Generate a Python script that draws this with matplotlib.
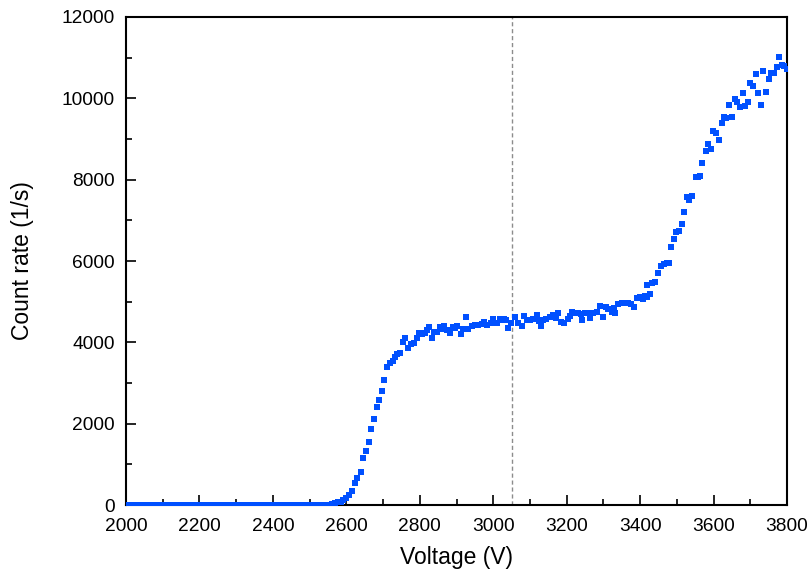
import matplotlib
matplotlib.use("Agg")
import matplotlib.pyplot as plt
from matplotlib.ticker import MultipleLocator

plt.rcParams['font.family'] = ['Liberation Sans', 'DejaVu Sans']

# Baseline region (count rate zero)
baseline_voltage = [2000, 2010, 2020, 2030, 2040, 2050, 2060, 2070, 2080, 2090,
                    2100, 2110, 2120, 2130, 2140, 2150, 2160, 2170, 2180, 2190,
                    2200, 2210, 2220, 2230, 2240, 2250, 2260, 2270, 2280, 2290,
                    2300, 2310, 2320, 2330, 2340, 2350, 2360, 2370, 2380, 2390,
                    2400, 2410, 2420, 2430, 2440, 2450, 2460, 2470, 2480, 2490,
                    2500, 2510, 2520, 2530, 2540, 2550, 2556]
baseline_rate = [0] * len(baseline_voltage)

# Measured region
voltage = [2562, 2569, 2578, 2585, 2592, 2599, 2608, 2616, 2624, 2630,
           2639, 2646, 2654, 2661, 2667, 2675, 2683, 2689, 2696, 2703,
           2711, 2719, 2726, 2733, 2739, 2746, 2753, 2760, 2769, 2776,
           2783, 2792, 2797, 2805, 2814, 2820, 2826, 2832, 2839, 2848,
           2855, 2860, 2866, 2873, 2882, 2890, 2896, 2902, 2911, 2919,
           2926, 2932, 2941, 2950, 2959, 2969, 2976, 2984, 2994, 3000,
           3009, 3018, 3024, 3029, 3035, 3041, 3048, 3059, 3068, 3078,
           3084, 3091, 3100, 3109, 3118, 3124, 3130, 3136, 3145, 3155,
           3164, 3170, 3176, 3185, 3194, 3203, 3208, 3214, 3223, 3232,
           3238, 3243, 3250, 3257, 3264, 3273, 3282, 3291, 3298, 3306,
           3313, 3323, 3328, 3332, 3341, 3350, 3359, 3368, 3375, 3384,
           3391, 3400, 3407, 3413, 3418, 3420, 3427, 3432, 3441, 3448,
           3456, 3465, 3472, 3479, 3484, 3492, 3499, 3507, 3514, 3520,
           3528, 3534, 3541, 3552, 3557, 3563, 3569, 3579, 3586, 3592,
           3599, 3607, 3614, 3622, 3628, 3635, 3642, 3649, 3658, 3665,
           3672, 3680, 3686, 3693, 3699, 3707, 3715, 3722, 3729, 3735,
           3743, 3750, 3757, 3765, 3772, 3778, 3786, 3793, 3799]
count_rate = [20, 41, 66, 82, 123, 164, 246, 353, 549, 672,
              803, 1156, 1336, 1549, 1861, 2123, 2418, 2582, 2803, 3074,
              3385, 3484, 3541, 3647, 3713, 3730, 4016, 4098, 3853, 3951,
              3976, 4098, 4237, 4197, 4222, 4300, 4369, 4098, 4246, 4246,
              4385, 4330, 4401, 4303, 4222, 4369, 4350, 4401, 4205, 4320,
              4631, 4320, 4401, 4426, 4426, 4450, 4492, 4426, 4467, 4565,
              4467, 4574, 4540, 4574, 4560, 4344, 4484, 4615, 4484, 4401,
              4648, 4560, 4549, 4565, 4672, 4520, 4401, 4549, 4565, 4615,
              4672, 4600, 4729, 4508, 4484, 4565, 4650, 4754, 4729, 4729,
              4690, 4549, 4713, 4713, 4590, 4713, 4754, 4893, 4615, 4861,
              4812, 4754, 4840, 4729, 4943, 4975, 4975, 4975, 4943, 4877,
              5083, 5108, 5058, 5140, 5122, 5410, 5181, 5467, 5491, 5713,
              5885, 5926, 5943, 5959, 6337, 6530, 6705, 6730, 6902, 7205,
              7566, 7500, 7595, 8058, 8070, 8099, 8419, 8714, 8877, 8747,
              9205, 9156, 8976, 9393, 9533, 9508, 9843, 9549, 9976, 9918,
              9795, 10123, 9811, 9918, 10385, 10303, 10598, 10123, 9828, 10680,
              10164, 10467, 10631, 10631, 10779, 11024, 10820, 10795, 10713]

marker_line_voltage = 3050

fig = plt.figure(figsize=(8.11, 5.80), dpi=100)
ax = fig.add_axes([0.1554, 0.1293, 0.8150, 0.8414])

blue = '#0050FF'
ax.plot(baseline_voltage + voltage, baseline_rate + count_rate, linestyle='none',
        marker='s', markersize=4.4, color=blue, markeredgewidth=0, zorder=3)

ax.axvline(marker_line_voltage, color='#8c8c8c', linestyle=(0, (3, 2)), linewidth=1.0, zorder=2)

ax.set_xlim(2000, 3800)
ax.set_ylim(0, 12000)
ax.xaxis.set_major_locator(MultipleLocator(200))
ax.xaxis.set_minor_locator(MultipleLocator(100))
ax.yaxis.set_major_locator(MultipleLocator(2000))
ax.yaxis.set_minor_locator(MultipleLocator(1000))

ax.tick_params(which='both', direction='in', top=False, right=False, width=1.2, labelsize=13.8)
ax.tick_params(which='major', length=7)
ax.tick_params(which='minor', length=4)
ax.tick_params(axis='x', pad=9)
ax.tick_params(axis='y', pad=8)

for s in ax.spines.values():
    s.set_linewidth(1.5)
    s.set_color('black')

ax.set_xlabel('Voltage (V)', fontsize=16.5, labelpad=8)
ax.set_ylabel('Count rate (1/s)', fontsize=16.5, labelpad=20)

fig.savefig('out.png', dpi=100)
